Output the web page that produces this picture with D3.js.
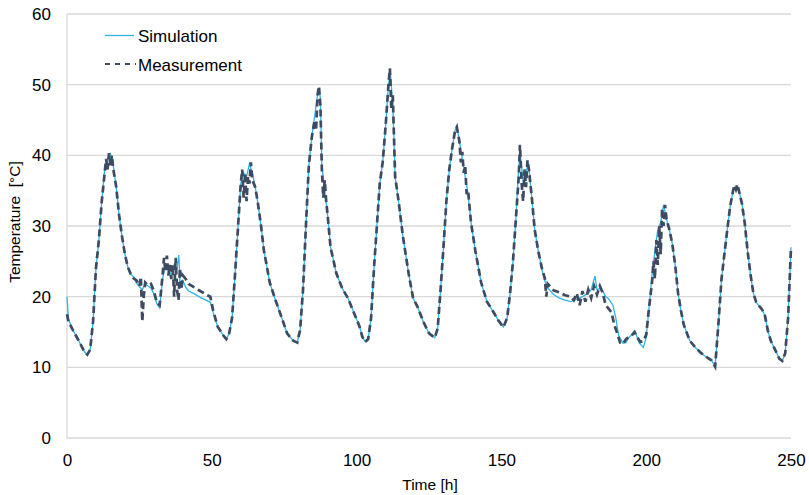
<!DOCTYPE html>
<html><head><meta charset="utf-8">
<script src="https://cdn.jsdelivr.net/npm/d3@7"></script>
<style>
body{margin:0;background:#fff;}
text{font-family:"Liberation Sans",Arial,sans-serif;fill:#000;}
</style></head>
<body><svg id="c" width="809" height="495"></svg>
<script>
const xTicks=[0,50,100,150,200,250];
const yTicks=[0,10,20,30,40,50,60];
const seriesNames=["Simulation","Measurement"];

const simHours=[0,0.5,2,4,6,7,8,9,10,11,12,13,14,15,16,17,18,19,20,21,22,23,24,25,26,27,28,29,30,31,32,33,34,35,36,37,38,38.6,39,40,41,42,44,46,48,49.5,50.5,52,54,55,56,57,58,59,60,61,62,63,64,65,66,67,68,69,70,72,74,76,78,79.5,80.5,81.5,82.5,83.5,84.5,85.5,86.5,87,87.5,88,89,90,91,93,95,97,99,101,102,103,104,105,106,107,108,109,110,111,111.7,112.5,113.3,114.5,116,118,119.5,121,123,125,127,128,129,130,131,132,133,134,134.6,135.5,136.5,137.5,138.5,139.5,141,143,145,147,149,150.7,152,153,154,155,156,156.5,157.5,158.5,159.3,160.5,161.5,162.7,164,165,166,168,170,172,174,176,178,180,181,182.3,183,184.5,186,187,188.5,189.5,190.5,192,193,194,195.5,196.5,197.5,199,200,201,202,203,204,205,206,207,208,209,210,211,212,213,215,217,219,221,222.5,223.8,225,226,227,228,229,230,231,232,233,234,235,236,237,238,240,241,242,243,244.5,246,247,248,249,250];
const simulation=[20.0,16.8,15.3,13.8,12.2,11.8,12.5,16.5,24,28,33.5,38,39.5,40.2,38.5,35.5,31.5,28.5,26,24.2,23.2,22.8,21.9,21.4,21.0,21.8,21.5,21.2,20.4,19.0,18.4,22.5,24.5,24.0,23.0,24.5,24.0,25.9,22,22.3,21.3,20.8,20.4,19.9,19.5,19.2,17.7,15.8,14.5,14.0,14.8,17,23,29.5,36,37.5,37,38.8,37.5,35.5,33,30,26.5,24.3,22,19.5,17.2,14.8,13.8,13.5,15.3,21,30,38.5,42.5,45.5,48.5,49.5,48,38.5,35,31.5,27,23.3,21.2,19.8,17.8,15.8,14.3,13.6,14.0,17,24,30,36,39,44,50,51.5,47,37,33.5,28.5,23.2,19.8,18.6,16.5,14.8,14.2,15.5,21,27,33.5,38,41,43.5,44,42,39.5,37,34.5,30.5,26.5,22,19.3,18,16.6,15.7,17,20.5,25,31,38.5,40,36.5,37.5,39,34,29.5,26.5,23.8,22.2,21.2,20.3,19.8,19.5,19.3,19.6,20.0,20.5,21,22.9,21,21.2,20,19.7,18.8,17,14.5,13.4,13.5,14.2,14.8,14.7,13.5,12.8,14.2,18.5,23,26.5,29.5,30.5,33,31,29.5,27.5,24.5,20.5,18,16,13.8,12.8,12.0,11.4,11.0,10.1,16.5,22.5,26,29.5,32.8,35,35.6,35,33.3,30.5,26.5,23.2,20.5,19.2,18.2,17.3,15.2,13.8,12.5,11.2,10.9,12,17,27];

const measHours=[0,0.5,2,4,6,7,8,9,10,11,12,13,13.5,14,14.5,15,15.5,16,17,18,19,20,21,22,23,24,25,25.5,26,26.5,27,28,29,30,31,32,33,33.5,34,34.5,35,35.5,36,36.5,37,37.5,38,38.5,39,39.5,40,41,42,44,46,48,49.5,50.5,52,54,55,56,57,58,59,60,60.5,61,61.5,62,62.5,63,63.5,64,65,66,67,68,69,70,72,74,76,78,79.5,80.5,81.5,82.5,83.5,84.5,85.5,86,86.5,87,87.5,88,88.5,89,89.5,90,91,93,95,97,99,101,102,103,104,105,106,107,108,109,110,111,111.5,112,112.5,113.3,114.5,116,118,119.5,121,123,125,127,128,129,130,131,132,133,134,134.6,135.5,136,136.5,137,137.5,138,138.5,139.5,141,143,145,147,149,150.7,152,153,154,155,156,156.4,157,157.5,158,158.5,159,159.5,160.5,161.5,162.7,164,165,165.5,166,168,170,172,174,175,176,177,178,179,180,181,182,183,184,185,186,187,188,189,190,191,192,193,194,195,196,197,198,199,200,201,202,202.5,203,203.5,204,204.5,205,205.5,206,206.5,207,208,209,210,211,212,213,215,217,219,221,222.5,223.8,225,226,227,228,229,230,230.5,231,231.5,232,233,234,235,236,237,238,240,241,242,243,244.5,246,247,248,249,250];
const measurement=[17.5,16.5,15.3,13.8,12.2,11.8,12.5,16.5,24,28,33.5,37.5,39.5,38,40.3,38.5,40,38,35.5,31.5,28.5,26,24.2,23.2,22.6,22.3,21.5,22.8,16.5,20,22,21.6,21.8,20.8,19.2,18.8,23,25.5,23.5,25.8,23,24.5,22.5,24.5,20,25.5,21,19.5,24,21,23,22.5,21.8,21.3,20.8,20.3,20,18,15.8,14.5,14.0,14.8,17,23,29.5,36,38,34,37.5,33.5,37,36,39,36.5,35.5,33,30,26.5,24.3,22,19.5,17.2,14.8,13.8,13.5,15.3,21,30,38.5,42.5,45,43.5,48.5,49.8,47,38,34,36.5,33.5,31.5,27,23.3,21.2,19.8,17.8,15.8,14.3,13.6,14.0,17,24,30,36,39,44,50,52.3,46.5,48.5,37,33.5,28.5,23.2,19.8,18.6,16.5,14.8,14.2,15.5,21,27,33.5,38,41,43.5,44,42,39,40.5,37.5,38.5,34.5,35,30.5,26.5,22,19.3,18,16.6,15.7,17,20.5,25,31,37,41.5,36,33.5,38,35.5,39.3,38,34,29.5,26.5,24,22.6,20,21.8,20.9,20.6,20.2,20.0,19.5,20.5,18.8,20.8,19.3,21.0,19.8,21.5,20.3,21.5,20.5,18.8,18.3,17.8,16,14.8,13.5,13.3,14,14.3,14.5,15,14.2,13.6,13.7,14.6,18.5,22,25,22.5,28,24.5,30,26,32.5,30,33,31,29.5,27.5,24.5,20.5,18,16,13.8,12.8,12.0,11.4,11.0,10.1,16.5,22.5,26,29.5,32.8,35,35.8,35.2,35.9,35,33.3,30.5,26.5,23.2,20.5,19.2,18.2,17.3,15.2,13.8,12.5,11.2,10.9,12,17,27];

const svg=d3.select("#c");
const m={l:67,r:791,t:14,b:438};
const x=d3.scaleLinear().domain([0,250]).range([m.l,m.r]);
const y=d3.scaleLinear().domain([0,60]).range([m.b,m.t]);

svg.append("g").selectAll("line").data(yTicks.filter(d=>d>0)).join("line")
  .attr("x1",m.l).attr("x2",m.r).attr("y1",d=>y(d)).attr("y2",d=>y(d))
  .attr("stroke","#d9d9d9").attr("stroke-width",1.3);
svg.append("line").attr("x1",m.l).attr("x2",m.l).attr("y1",m.t).attr("y2",m.b).attr("stroke","#d9d9d9").attr("stroke-width",1.3);
svg.append("line").attr("x1",m.l).attr("x2",m.r).attr("y1",m.b).attr("y2",m.b).attr("stroke","#d9d9d9").attr("stroke-width",1.3);

const yAxis=d3.axisLeft(y).tickValues(yTicks).tickSize(0).tickPadding(16);
const gy=svg.append("g").attr("transform",`translate(${m.l},0)`).call(yAxis);
gy.select(".domain").remove();
gy.selectAll("text").style("font-size","17px").attr("fill","#000");

const xAxis=d3.axisBottom(x).tickValues(xTicks).tickSize(0).tickPadding(16);
const gx=svg.append("g").attr("transform",`translate(0,${m.b})`).call(xAxis);
gx.select(".domain").remove();
gx.selectAll("text").style("font-size","17px").attr("fill","#000");

svg.append("text").attr("x",430).attr("y",490).attr("text-anchor","middle").style("font-size","15.5px").text("Time [h]");
svg.append("text").attr("transform","translate(20,222) rotate(-90)").attr("text-anchor","middle").style("font-size","15.5px").style("white-space","pre").text("Temperature  [°C]");

const line=d3.line().x(d=>x(d[0])).y(d=>y(d[1]));
const simData=simHours.map((h,i)=>[h,simulation[i]]);
const measData=measHours.map((h,i)=>[h,measurement[i]]);

svg.append("path").datum(simData).attr("d",line).attr("fill","none").attr("stroke","#2fb4ea").attr("stroke-width",1.3);
svg.append("path").datum(measData).attr("d",line).attr("fill","none").attr("stroke","#3d4b60").attr("stroke-width",2.7).attr("stroke-dasharray","7,4");

const lg=svg.append("g");
lg.append("line").attr("x1",105).attr("x2",134).attr("y1",35.5).attr("y2",35.5).attr("stroke","#2fb4ea").attr("stroke-width",1.3);
lg.append("line").attr("x1",105).attr("x2",136).attr("y1",64).attr("y2",64).attr("stroke","#3d4b60").attr("stroke-width",2.2).attr("stroke-dasharray","5,5");
lg.append("text").attr("x",138).attr("y",42).style("font-size","17px").text(seriesNames[0]);
lg.append("text").attr("x",138).attr("y",71).style("font-size","17px").text(seriesNames[1]);
</script></body></html>
